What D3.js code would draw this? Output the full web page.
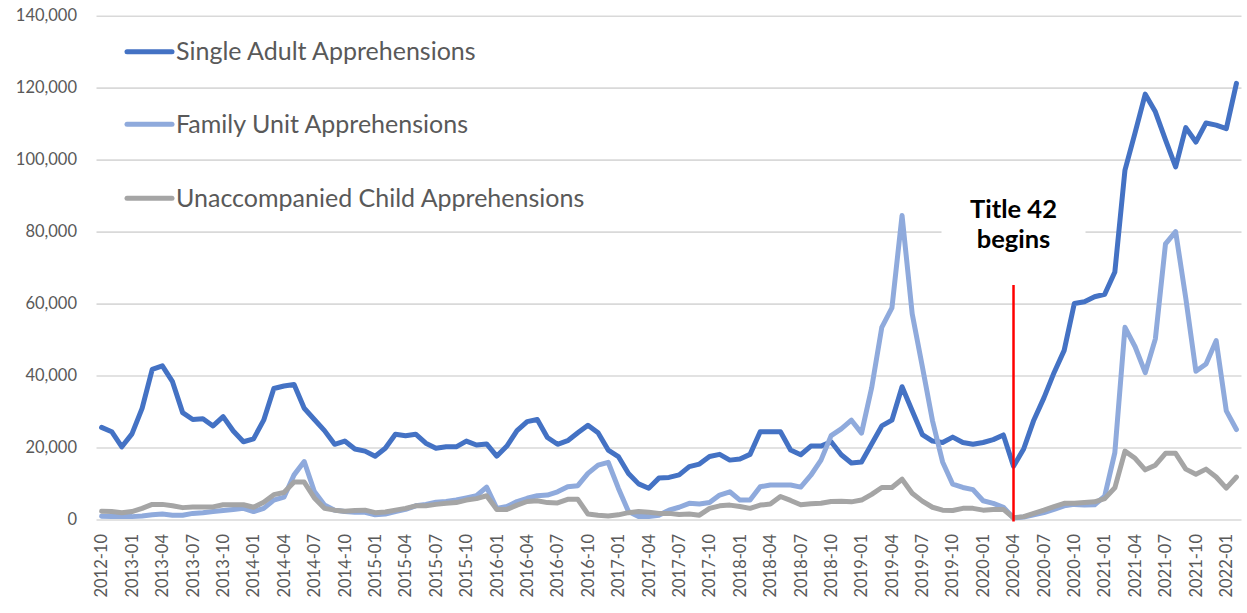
<!DOCTYPE html>
<html>
<head>
<meta charset="utf-8">
<script src="https://cdn.jsdelivr.net/npm/d3@7"></script>
<style>
  html, body { margin: 0; padding: 0; background: #ffffff; }
  svg { display: block; }
  text { font-family: Lato, "Noto Sans", sans-serif; }
</style>
</head>
<body>
<svg id="chart" width="1247" height="613"></svg>
<script>
// ---- DATA (monthly, 2012-10 .. 2022-02) ----
const startMonth = "2012-10";
const endMonth = "2022-02";

const seriesNames = [
  "Single Adult Apprehensions",
  "Family Unit Apprehensions",
  "Unaccompanied Child Apprehensions"
];

const singleAdult = [
  25600, 24400, 20200, 23800, 30900, 41700, 42700, 38300, 29700, 27800, 28000, 26000,
  28600, 24600, 21600, 22400, 27600, 36400, 37100, 37500, 30900, 27800, 24700, 20900,
  21800, 19600, 19000, 17600, 19800, 23700, 23300, 23700, 21200, 19800, 20200, 20200,
  21800, 20700, 21000, 17600, 20400, 24700, 27200, 27800, 22800, 20900, 21900, 24100,
  26200, 24100, 19300, 17500, 12800, 9900, 8700, 11500, 11700, 12400, 14700, 15400,
  17500, 18100, 16500, 16800, 18100, 24400, 24400, 24400, 19300, 18000, 20400, 20400,
  21600, 18000, 15700, 16000, 21000, 26000, 27600, 36900, 30200, 23600, 21800, 21400,
  22900, 21400, 20900, 21400, 22200, 23500, 14800, 19600, 27600, 33800, 40800, 47000,
  60000, 60500, 61900, 62600, 68800, 97100, 107500, 118200, 113300, 105500, 98000, 108900,
  104900, 110200, 109600, 108600, 121200
];

const familyUnit = [
  900, 800, 800, 800, 1000, 1300, 1500, 1200, 1200, 1700, 1900, 2200,
  2500, 2800, 3100, 2200, 3100, 5400, 6200, 12400, 16100, 7800, 4000, 2600,
  2200, 2000, 2000, 1300, 1500, 2200, 2800, 3800, 4200, 4800, 5000, 5400,
  6000, 6600, 9000, 3100, 3600, 5000, 5900, 6600, 6800, 7700, 9100, 9400,
  12800, 15100, 15900, 8700, 2200, 800, 800, 1200, 2600, 3400, 4500, 4300,
  4700, 6800, 7700, 5400, 5400, 9100, 9600, 9600, 9600, 9000, 12300, 16500,
  23300, 25200, 27600, 24000, 36600, 53400, 58800, 84500, 57200, 42500, 27500, 16000,
  9800, 8900, 8300, 5200, 4500, 3400, 400, 700, 1300, 1900, 2800, 3800,
  4200, 4000, 4100, 6500, 18600, 53400, 48000, 40800, 50200, 76600, 80000, 61500,
  41200, 43200, 49700, 30200, 25000
];

const unaccompaniedChild = [
  2300, 2200, 1900, 2200, 3100, 4200, 4200, 3800, 3300, 3500, 3500, 3500,
  4100, 4100, 4100, 3400, 4800, 6900, 7500, 10400, 10400, 6000, 3100, 2600,
  2300, 2500, 2600, 1900, 2100, 2600, 3100, 3800, 3800, 4200, 4500, 4700,
  5400, 5800, 6600, 2800, 2800, 4000, 5000, 5200, 4700, 4600, 5600, 5600,
  1500, 1200, 1000, 1300, 1900, 2200, 2000, 1700, 1700, 1400, 1500, 1200,
  3100, 3800, 4000, 3600, 3100, 4000, 4300, 6400, 5300, 4100, 4400, 4500,
  5000, 5100, 4900, 5400, 7000, 8900, 8900, 11200, 7300, 5100, 3400, 2600,
  2500, 3100, 3100, 2600, 2800, 2800, 500, 800, 1700, 2600, 3600, 4500,
  4500, 4700, 4900, 5800, 8800, 19000, 17000, 13800, 15100, 18400, 18400, 14000,
  12600, 14000, 11800, 8700, 11800
];

const yTicks = [0, 20000, 40000, 60000, 80000, 100000, 120000, 140000];
const annotationMonth = "2020-04";
const annotationLines = ["Title 42", "begins"];

// ---- CATEGORIES ----
const parseM = d3.timeParse("%Y-%m");
const fmtM = d3.timeFormat("%Y-%m");
const months = d3.timeMonth.range(parseM(startMonth), d3.timeMonth.offset(parseM(endMonth), 1)).map(fmtM);
const tickLabels = months.filter((m, i) => i % 3 === 0);

const seriesValues = [singleAdult, familyUnit, unaccompaniedChild];
const colors = ["#4472C4", "#8FAADC", "#A5A5A5"];

// ---- LAYOUT ----
const svg = d3.select("#chart");
const plotLeft = 96.5, plotRight = 1241.5, plotTop = 15.7, plotBottom = 519.5;

const x = d3.scaleBand().domain(months).range([plotLeft, plotRight]).paddingInner(0).paddingOuter(0);
const xc = m => x(m) + x.bandwidth() / 2;
const y = d3.scaleLinear().domain([0, 140000]).range([plotBottom, plotTop]);

// gridlines
const grid = svg.append("g")
  .attr("transform", `translate(${plotLeft},0)`)
  .call(d3.axisLeft(y).tickValues(yTicks).tickSize(-(plotRight - plotLeft)).tickFormat(""));
grid.select(".domain").remove();
grid.selectAll("line").attr("stroke", "#d9d9d9").attr("stroke-width", 1.6);

// y labels
const yAxis = svg.append("g")
  .attr("transform", "translate(77,0)")
  .call(d3.axisLeft(y).tickValues(yTicks).tickSize(0).tickPadding(0).tickFormat(d3.format(",")));
yAxis.select(".domain").remove();
yAxis.selectAll("text")
  .attr("fill", "#595959")
  .style("font-size", "16.5px")
  .style("font-family", "Lato, 'Noto Sans', sans-serif");

// x labels
const xAxis = svg.append("g");
xAxis.selectAll("text")
  .data(tickLabels)
  .join("text")
  .attr("transform", d => `translate(${xc(d)},534) rotate(-90)`)
  .attr("text-anchor", "end")
  .attr("dy", "0.35em")
  .attr("fill", "#595959")
  .style("font-size", "16.5px")
  .text(d => d);

// annotation white box + text
const ax = xc(annotationMonth);
svg.append("rect")
  .attr("x", ax - 72).attr("y", 190)
  .attr("width", 144).attr("height", 75)
  .attr("fill", "#ffffff");
svg.append("g").selectAll("text")
  .data(annotationLines)
  .join("text")
  .attr("x", ax)
  .attr("y", (d, i) => 218 + i * 30)
  .attr("text-anchor", "middle")
  .attr("fill", "#000000")
  .style("font-weight", "700")
  .style("font-size", "25.5px")
  .text(d => d);

// lines
const line = d3.line()
  .x((d, i) => xc(months[i]))
  .y(d => y(d));

svg.append("g").selectAll("path")
  .data(seriesValues)
  .join("path")
  .attr("d", d => line(d))
  .attr("fill", "none")
  .attr("stroke", (d, i) => colors[i])
  .attr("stroke-width", 5)
  .attr("stroke-linejoin", "round")
  .attr("stroke-linecap", "round");

// red vertical line
svg.append("line")
  .attr("x1", ax).attr("x2", ax)
  .attr("y1", 285).attr("y2", y(0) + 2)
  .attr("stroke", "#FF0000")
  .attr("stroke-width", 2.5);

// legend
const legend = svg.append("g");
const legendY = [51.7, 124.2, 198.3];
seriesNames.forEach((name, i) => {
  legend.append("line")
    .attr("x1", 127).attr("x2", 172)
    .attr("y1", legendY[i]).attr("y2", legendY[i])
    .attr("stroke", colors[i])
    .attr("stroke-width", 5)
    .attr("stroke-linecap", "round");
  legend.append("text")
    .attr("x", 176)
    .attr("y", legendY[i])
    .attr("dy", "0.35em")
    .attr("fill", "#595959")
    .style("font-size", "25px")
    .text(name);
});
</script>
</body>
</html>
